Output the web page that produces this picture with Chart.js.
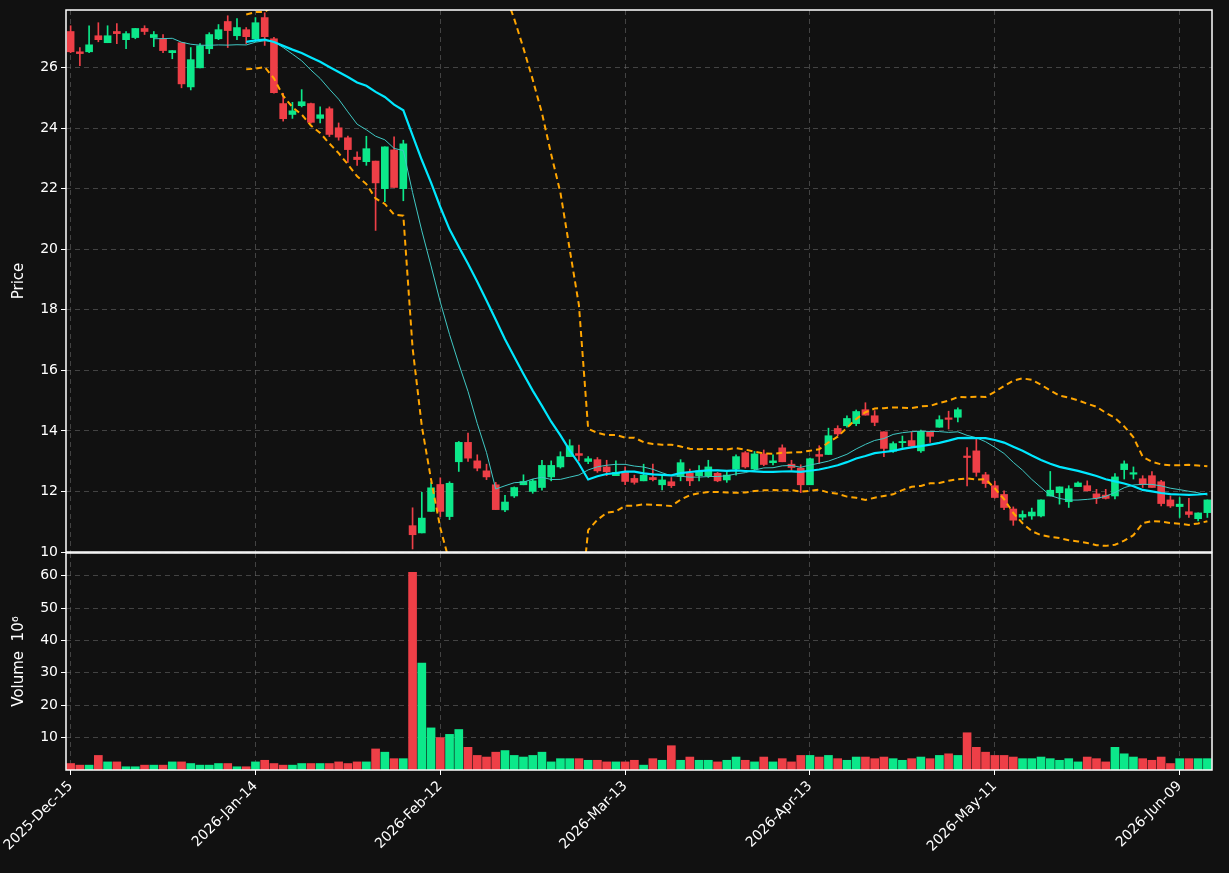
<!DOCTYPE html>
<html><head><meta charset="utf-8">
<script src="https://cdn.jsdelivr.net/npm/chart.js@4"></script>
<style>
html,body{margin:0;padding:0;background:#111111;width:1229px;height:873px;overflow:hidden}
canvas{position:absolute;left:0}
#c1{top:0}#c2{top:552px}
</style></head><body>
<canvas id="c1" width="1229" height="564"></canvas>
<canvas id="c2" width="1229" height="321"></canvas>
<script>
const holidays=['2025-12-25','2026-01-01','2026-01-19','2026-02-16','2026-04-03','2026-05-25'];
const tickLabels=['2025-Dec-15','2026-Jan-14','2026-Feb-12','2026-Mar-13','2026-Apr-13','2026-May-11','2026-Jun-09'];
const opens=[27.19,26.52,26.52,27.05,26.82,27.19,26.92,26.99,27.29,26.99,26.95,26.49,26.82,25.36,25.99,26.62,26.95,27.52,27.05,27.25,26.95,27.65,
26.95,24.81,24.45,24.74,24.81,24.32,24.64,24.01,23.68,23.04,22.89,22.91,22.00,23.28,22.00,10.87,10.63,11.34,12.23,11.17,
12.98,13.62,13.01,12.68,12.22,11.39,11.85,12.22,12.00,12.13,12.48,12.81,13.15,13.25,12.99,13.05,12.81,12.52,12.63,12.43,12.35,
12.46,12.22,12.32,12.49,12.60,12.52,12.52,12.60,12.38,12.74,13.28,12.74,13.24,12.95,13.44,12.90,12.77,12.22,13.18,13.22,14.08,
14.17,14.24,14.70,14.50,13.97,13.33,13.61,13.68,13.34,13.97,14.12,14.43,14.45,13.17,13.34,12.55,12.19,11.90,11.42,11.15,
11.19,11.19,11.85,11.96,11.66,12.16,12.19,11.92,11.88,11.85,12.72,12.57,12.42,12.52,12.32,11.72,11.50,11.33,11.10,11.30];
const highs=[27.38,26.66,27.38,27.48,27.38,27.45,27.19,27.29,27.38,27.19,27.09,26.56,26.82,26.66,26.79,27.15,27.42,27.71,27.62,27.32,27.65,27.81,
27.00,25.15,24.85,25.27,24.83,24.70,24.70,24.17,23.74,23.22,23.73,22.91,23.38,23.71,23.60,11.46,11.97,12.29,12.45,12.32,
13.65,13.93,13.21,12.90,12.30,11.87,12.15,12.55,12.40,13.03,13.01,13.31,13.71,13.53,13.15,13.12,13.03,13.01,12.81,12.54,12.90,
12.90,12.52,12.46,13.05,12.74,12.85,13.03,12.63,12.68,13.21,13.32,13.32,13.37,13.21,13.54,13.03,12.88,13.10,13.51,14.09,14.17,
14.50,14.69,14.93,14.67,13.97,13.64,13.83,13.97,14.03,13.97,14.50,14.65,14.76,13.45,13.75,12.63,12.34,12.02,11.49,11.36,
11.45,11.72,12.66,12.15,12.19,12.32,12.35,12.07,12.07,12.59,13.01,12.81,12.52,12.66,12.37,11.85,11.80,11.77,11.29,11.72];
const lows=[26.49,26.06,26.49,26.85,26.82,26.79,26.62,26.95,27.09,26.69,26.49,26.29,25.33,25.26,25.99,26.46,26.92,26.66,26.92,26.79,26.85,26.73,
25.15,24.23,24.32,24.70,24.16,24.17,23.72,23.60,22.87,22.77,22.77,20.62,21.57,22.04,21.60,10.10,10.63,11.34,11.17,11.07,
12.66,12.99,12.68,12.39,11.40,11.33,11.80,12.22,11.94,12.04,12.35,12.77,13.15,13.01,12.92,12.63,12.52,12.52,12.22,12.24,12.35,
12.35,12.05,12.13,12.35,12.19,12.35,12.46,12.32,12.30,12.54,12.77,12.70,12.85,12.88,12.98,12.70,11.96,12.22,12.92,13.22,13.84,
14.12,14.17,14.52,14.17,13.15,13.29,13.45,13.48,13.29,13.62,14.12,14.06,14.30,12.18,12.50,12.13,11.78,11.40,10.88,11.06,
11.08,11.16,11.85,11.58,11.47,12.16,12.02,11.60,11.75,11.75,12.41,12.41,12.13,12.13,11.52,11.47,11.14,11.14,11.03,11.14];
const closes=[26.52,26.46,26.75,26.92,27.05,27.12,27.12,27.29,27.19,27.09,26.56,26.56,25.46,26.26,26.72,27.09,27.25,27.22,27.32,27.02,27.48,27.02,
25.17,24.31,24.57,24.87,24.19,24.44,23.79,23.70,23.29,22.96,23.32,22.19,23.38,22.04,23.48,10.57,11.12,12.12,11.34,12.27,
13.62,13.10,12.77,12.48,11.40,11.65,12.13,12.33,12.35,12.86,12.86,13.15,13.51,13.19,13.08,12.68,12.65,12.63,12.33,12.30,12.54,
12.39,12.38,12.19,12.95,12.35,12.68,12.81,12.35,12.54,13.15,12.81,13.24,12.89,13.01,12.98,12.79,12.22,13.08,13.16,13.84,13.90,
14.41,14.64,14.52,14.28,13.42,13.58,13.65,13.50,13.99,13.82,14.37,14.38,14.70,13.12,12.63,12.26,11.80,11.47,11.05,11.24,
11.32,11.72,12.04,12.15,12.09,12.28,12.02,11.78,11.77,12.48,12.91,12.62,12.24,12.13,11.60,11.52,11.54,11.24,11.29,11.72];
const volumes=[2,1.5,1.5,4.5,2.5,2.5,1,1,1.5,1.5,1.5,2.5,2.5,2,1.5,1.5,2,2,1,1,2.5,3,
2,1.5,1.5,2,2,2,2,2.5,2,2.5,2.5,6.5,5.5,3.5,3.5,61,33,13,10,11,
12.5,7,4.5,4,5.5,6,4.5,4,4.5,5.5,2.5,3.5,3.5,3.5,3,3,2.5,2.5,2.5,3,1.5,
3.5,3,7.5,3,4,3,3,2.5,3,4,3,2.5,4,2.5,3.5,2.5,4.5,4.5,4,4.5,3.5,
3,4,4,3.5,4,3.5,3,3.5,4,3.5,4.5,5,4.5,11.5,7,5.5,4.5,4.5,4,3.5,
3.5,4,3.5,3,3.5,2.5,4,3.5,2.5,7,5,4,3.5,3,4,2,3.5,3.5,3.5,3.5];

// trading-day labels
const MON=['Jan','Feb','Mar','Apr','May','Jun','Jul','Aug','Sep','Oct','Nov','Dec'];
const labels=[];
{let d=new Date(Date.UTC(2025,11,15));
 while(labels.length<closes.length){const iso=d.toISOString().slice(0,10);const wd=d.getUTCDay();
  if(wd!==0&&wd!==6&&!holidays.includes(iso)){labels.push(d.getUTCFullYear()+'-'+MON[d.getUTCMonth()]+'-'+String(d.getUTCDate()).padStart(2,'0'));}
  d=new Date(d.getTime()+86400000);}}

function sma(a,n){return a.map((_,i)=>i<n-1?null:a.slice(i-n+1,i+1).reduce((s,v)=>s+v,0)/n);}
function sd(a,n){return a.map((_,i)=>{if(i<n-1)return null;const w=a.slice(i-n+1,i+1);const m=w.reduce((s,v)=>s+v,0)/n;return Math.sqrt(w.reduce((s,v)=>s+(v-m)*(v-m),0)/(n-1));});}
const ma10=sma(closes,10), ma20=sma(closes,20), s20=sd(closes,20);
const up=ma20.map((m,i)=>m==null?null:m+2*s20[i]), lo=ma20.map((m,i)=>m==null?null:m-2*s20[i]);

const RED='#ee3f47', GREEN='#0ce88a';
const cols=closes.map((c,i)=>c>=opens[i]?GREEN:RED);
const FONT={family:'DejaVu Sans',size:14};
const GRID='rgba(110,110,110,0.55)';
const frame={id:'frame',afterDraw(c){const a=c.chartArea,x=c.ctx;x.save();x.strokeStyle='#ffffff';x.lineWidth=1.5;x.strokeRect(a.left,a.top,a.right-a.left,a.bottom-a.top);x.restore();}};
const xTick=(v,i)=>tickLabels.includes(labels[i])?labels[i]:null;
const yFit=w=>s=>{s.width=w;s.paddingTop=0;s.paddingBottom=0;};
const TITLEPAD={top:10,bottom:4};

new Chart(document.getElementById('c1'),{
 type:'bar',
 data:{labels,datasets:[
  {type:'line',data:ma20,borderColor:'#00e8ff',borderWidth:2.2,pointRadius:0,order:0,clip:0},
  {type:'line',data:ma10,borderColor:'#40c8c4',borderWidth:1,pointRadius:0,order:0,clip:0},
  {type:'line',data:up,borderColor:'#ffa500',borderWidth:2,borderDash:[6,4],pointRadius:0,order:0,clip:0},
  {type:'line',data:lo,borderColor:'#ffa500',borderWidth:2,borderDash:[6,4],pointRadius:0,order:0,clip:0},
  {data:closes.map((c,i)=>[Math.min(opens[i],c),Math.max(opens[i],c)+ (Math.abs(c-opens[i])<0.04?0.04:0)]),backgroundColor:cols,barThickness:7,grouped:false,order:1},
  {data:lows.map((l,i)=>[l,highs[i]]),backgroundColor:cols,barThickness:1,grouped:false,order:2}
 ]},
 options:{responsive:false,animation:false,layout:{padding:{top:10,right:17,left:0,bottom:12}},
  plugins:{legend:{display:false},tooltip:{enabled:false}},
  scales:{
   x:{offset:true,ticks:{display:false,autoSkip:false,callback:xTick},grid:{offset:false,color:GRID,drawTicks:false},border:{display:false,dash:[5,4]},afterFit(s){s.height=0;s.paddingLeft=0;s.paddingRight=0;}},
   y:{min:10,max:27.9,ticks:{stepSize:2,color:'#fff',font:FONT,callback:v=>v%2===0?v:null},
      grid:{color:GRID,tickColor:'#fff',tickLength:5},border:{display:false,dash:[5,4]},
      title:{display:true,text:'Price',color:'#fff',padding:TITLEPAD,font:{family:'DejaVu Sans',size:15}},afterFit:yFit(66)}
  }},
 plugins:[frame]
});

new Chart(document.getElementById('c2'),{
 type:'bar',
 data:{labels,datasets:[{data:volumes,backgroundColor:cols,barThickness:8}]},
 options:{responsive:false,animation:false,layout:{padding:{top:1,right:17,left:0,bottom:0}},
  plugins:{legend:{display:false},tooltip:{enabled:false}},
  scales:{
   x:{offset:true,ticks:{autoSkip:false,maxRotation:45,minRotation:45,color:'#fff',font:FONT,callback:xTick},
      grid:{offset:false,color:GRID,tickColor:'#fff',tickLength:5},border:{display:false,dash:[5,4]},
      afterFit(s){s.height=103;s.paddingLeft=0;s.paddingRight=0;}},
   y:{min:0,max:67,ticks:{stepSize:10,color:'#fff',font:FONT,callback:v=>(v>0&&v%10===0)?v:null},
      grid:{color:GRID,tickColor:'#fff',tickLength:5},border:{display:false,dash:[5,4]},
      title:{display:true,text:'Volume  10⁶',color:'#fff',padding:TITLEPAD,font:{family:'DejaVu Sans',size:15}},afterFit:yFit(66)}
  }},
 plugins:[frame]
});
</script></body></html>
